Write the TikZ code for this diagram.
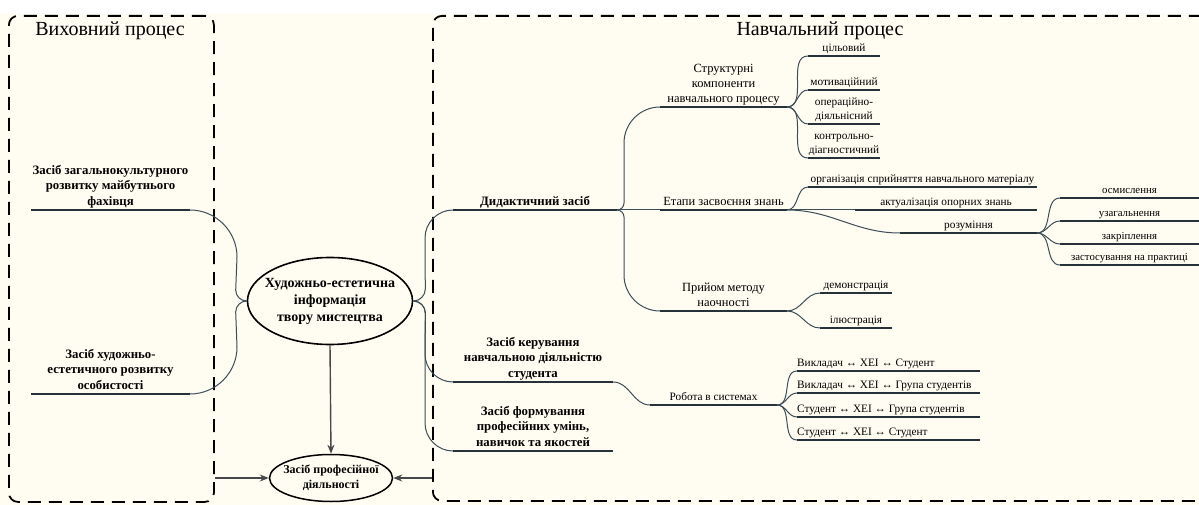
\documentclass[tikz,border=0pt]{standalone}
\usepackage{fontspec}
\setmainfont{Liberation Serif}
\usetikzlibrary{calc,arrows.meta,shapes.geometric}

\definecolor{paper}{RGB}{255,252,242}
\definecolor{barcol}{RGB}{38,50,58}
\definecolor{linkcol}{RGB}{62,78,88}
\definecolor{arrcol}{RGB}{70,72,74}

\tikzset{
  box/.style={draw=black, line width=1.8pt, dash pattern=on 13pt off 8pt, rounded corners=9pt},
  bar/.style={draw=barcol, line width=2.4pt},
  link/.style={draw=linkcol, line width=1pt},
  fan/.style={link, out=0, in=180},
  arr/.style={draw=arrcol, line width=1.4pt, -{Stealth[length=9pt,width=7pt]}},
  lbl/.style={anchor=south, align=center, inner xsep=1.5pt, inner ysep=2pt, text depth=2.5pt},
  big/.style={lbl, font=\fontsize{12.8}{15.5}\selectfont\bfseries},
  mid/.style={lbl, font=\fontsize{12.5}{15}\selectfont},
  small/.style={lbl, font=\fontsize{11.3}{14}\selectfont},
  tiny/.style={lbl, font=\fontsize{10.8}{13}\selectfont},
}

% bar with its label: [style] name, x left, x right, y, text
\newcommand{\branch}[6][mid]{%
  \coordinate (#2L) at (#3,#5);
  \coordinate (#2R) at (#4,#5);
  \draw[bar] (#2L) -- (#2R);
  \node[#1] (#2) at ($(#2L)!.5!(#2R)$) {#6};
}

% rounded elbow: from, to, first radius, second radius, 1 down / -1 up
\newcommand{\elbow}[5]{%
  \draw[link] (#1) .. controls +({0.55*#3},0) and +(0,{-0.55*#3*(#5)}) .. ($(#1)+(#3,{#3*(#5)})$)
    -- ($(#2)+({-#4},{-#4*(#5)})$) .. controls +(0,{0.55*#4*(#5)}) and +({-0.55*#4},0) .. (#2);
}

\begin{document}
\begin{tikzpicture}[x=1pt, y=-1pt]
  \clip (0,0) rectangle (1199,505);
  \fill[paper] (0,14) rectangle (1199,505);

  % the two processes
  \node[box, minimum width=205pt, minimum height=486pt, anchor=north west] (vykh) at (8,15) {};
  \node[box, minimum width=820pt, minimum height=485pt, anchor=north west] (navch) at (432,15) {};
  \node[font=\fontsize{20}{24}\selectfont] (vykhT) at (110,31) {Виховний процес};
  \node[font=\fontsize{20}{24}\selectfont] (navchT) at (820,31) {Навчальний процес};

  % centre
  \node[draw, ellipse, line width=1.6pt, minimum width=165pt, minimum height=87pt, inner sep=0pt] (info) at (330,301) {};
  \node[align=center, font=\fontsize{14}{17}\selectfont\bfseries] (infoT) at (info.center)
    {Художньо-естетична\\інформація\\твору мистецтва};
  \node[draw, ellipse, line width=1.5pt, minimum width=123pt, minimum height=47pt, inner sep=0pt] (prof) at (331,478) {};
  \node[align=center, font=\fontsize{12}{15}\selectfont\bfseries] (profT) at (prof.center)
    {Засіб професійної\\діяльності};

  \draw[arr] (info.south) -- (prof.north);
  \draw[arr] (vykh.east |- prof.west) -- (prof.west);
  \draw[arr] (navch.west |- prof.east) -- (prof.east);

  % upbringing
  \branch[big]{zag}{31}{190}{210}{Засіб загальнокультурного\\розвитку майбутнього\\фахівця}
  \branch[big]{hud}{31}{190}{394}{Засіб художньо-\\естетичного розвитку\\особистості}
  \elbow{zagR}{info.west}{47}{11}{1}
  \elbow{hudR}{info.west}{47}{11}{-1}

  % learning
  \branch[big]{did}{453}{617}{210}{Дидактичний засіб}
  \branch[big]{ker}{453}{613}{382}{Засіб керування\\навчальною діяльністю\\студента}
  \branch[big]{form}{453}{613}{451}{Засіб формування\\професійних умінь,\\навичок та якостей}
  \elbow{info.east}{didL}{12}{28}{-1}
  \elbow{info.east}{kerL}{12}{28}{1}
  \elbow{info.east}{formL}{12}{28}{1}

  \branch{str}{660}{787}{107}{Структурні\\компоненти\\навчального процесу}
  \branch{etap}{660}{787}{210}{Етапи засвоєння знань}
  \branch{pryi}{660}{787}{311}{Прийом методу\\наочності}
  \elbow{didR}{strL}{7}{36}{-1}
  \draw[link] (didR) -- (etapL);
  \elbow{didR}{pryiL}{7}{36}{1}

  \foreach \nm/\y/\txt in {cil/56/цільовий, mot/90/мотиваційний,
      oper/124/{операційно-\\діяльнісний}, kontr/158/{контрольно-\\діагностичний}} {
    \branch[small]{\nm}{808}{880}{\y}{\txt}
    \draw[fan] (strR) to (\nm L);
  }

  \branch[small]{org}{808}{1037}{187}{організація сприйняття навчального матеріалу}
  \branch[small]{akt}{855}{1037}{210}{актуалізація опорних знань}
  \branch[small]{roz}{900}{1037}{233}{розуміння}
  \draw[fan] (etapR) to (orgL) (etapR) to (rozL);
  \draw[link] (etapR) -- (aktL);

  \foreach \nm/\y/\txt in {osm/198/осмислення, uzag/221/узагальнення,
      zakr/244/закріплення, zast/265/застосування на практиці} {
    \branch[tiny]{\nm}{1060}{1199}{\y}{\txt}
    \draw[fan] (rozR) to (\nm L);
  }

  \foreach \nm/\y/\txt in {dem/293/демонстрація, ilu/328/ілюстрація} {
    \branch[small]{\nm}{820}{892}{\y}{\txt}
    \draw[fan] (pryiR) to (\nm L);
  }

  \branch[small]{rob}{650}{777}{405}{Робота в системах}
  \draw[fan] (kerR) to (robL);

  \foreach \nm/\y/\txt in {sysa/371/Викладач ↔ ХЕІ ↔ Студент,
      sysb/393/Викладач ↔ ХЕІ ↔ Група студентів,
      sysc/417/Студент ↔ ХЕІ ↔ Група студентів,
      sysd/440/Студент ↔ ХЕІ ↔ Студент} {
    \coordinate (\nm L) at (797,\y);
    \coordinate (\nm R) at (980,\y);
    \draw[bar] (\nm L) -- (\nm R);
    \node[small, anchor=south west, inner xsep=0pt] (\nm) at (\nm L) {\txt};
    \draw[fan] (robR) to (\nm L);
  }
\end{tikzpicture}
\end{document}
